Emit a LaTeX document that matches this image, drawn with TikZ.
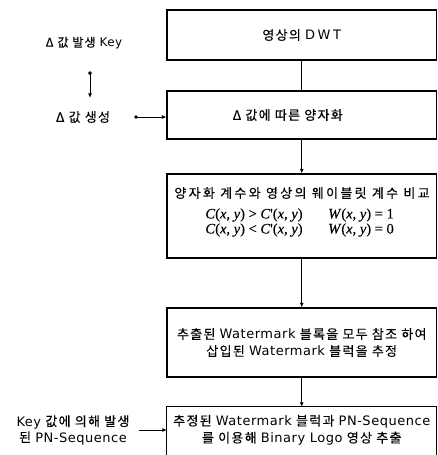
\documentclass[tikz,border=0pt]{standalone}
\usepackage{fontspec}
\setmainfont{Noto Sans CJK KR}[LetterSpace=10,FakeBold=0.3]
\newfontfamily\widefont{Noto Sans CJK KR}[LetterSpace=18,FakeBold=0.3]
\newfontfamily\lat{DejaVu Sans}[LetterSpace=4]
\newfontfamily\latw{DejaVu Sans}[LetterSpace=20]
\newfontfamily\tms{Liberation Serif}[FakeBold=0.3]
\newcommand{\lt}[1]{{\lat #1}}
\usetikzlibrary{arrows.meta}
\begin{document}
\begin{tikzpicture}[x=1pt,y=-1pt,
  txt/.style={inner sep=0pt, font=\fontsize{13}{17}\selectfont, align=center},
  lbl/.style={inner sep=0pt, font=\fontsize{13}{16}\selectfont, align=center},
  box/.style={txt, draw=none, minimum width=269.5pt},
  boxline/.style={line width=1.2pt},
  conn/.style={line width=1pt},
  arr/.style={conn, -{Latex[length=4.5pt,width=4pt]}},
  dotarr/.style={conn, {Circle[length=3.5pt]}-{Latex[length=4.5pt,width=4pt]}},
  mth/.style={inner sep=0pt, font=\fontsize{14.5}{16}\selectfont\tms}
]
\clip (0,0) rectangle (438,455);
\fill[white] (0,0) rectangle (438,455);
% main boxes
\node[box, draw, boxline, minimum height=50pt] (b1) at (301.75,35) {영상의 {\latw DWT}};
\node[box, draw, boxline, minimum height=48pt] (b2) at (301.75,115) {Δ 값에 따른 양자화\hspace*{28pt}};
\node[box, draw, boxline, minimum height=84pt] (b3) at (301.75,216) {};
\node[txt, font=\fontsize{13}{17}\widefont] (b3t) at (302,193) {양자화 계수와 영상의 웨이블릿 계수 비교};
\node[mth] (m1) at (254,215) {\textit{C}(\textit{x}, \textit{y}) > \textit{C}'(\textit{x}, \textit{y})};
\node[mth] (m2) at (254,230) {\textit{C}(\textit{x}, \textit{y}) < \textit{C}'(\textit{x}, \textit{y})};
\node[mth] (w1) at (361,215) {\textit{W}(\textit{x}, \textit{y}) = 1};
\node[mth] (w2) at (361,230) {\textit{W}(\textit{x}, \textit{y}) = 0};
\node[box, draw, boxline, minimum height=69pt] (b4) at (301.75,342.5)
  {추출된 \lt{Watermark} 블록을 모두 참조 하여\\삽입된 \lt{Watermark} 블럭을 추정};
\node[box, minimum height=46pt] (b5) at (301.75,430)
  {추정된 \lt{Watermark} 블럭과 \lt{PN-Sequence}\\를 이용해 \lt{Binary Logo} 영상 추출};
\draw[boxline] ([yshift=-40pt]b5.south west) -- (b5.north west) -- (b5.north east) -- ([yshift=-40pt]b5.south east);
% left labels
\node[lbl, font=\fontsize{12}{16}\selectfont] (k1) at (84,43) {Δ 값 발생 \lt{Key}};
\node[lbl] (k2) at (83,117) {Δ 값 생성};
\node[lbl] (k3) at (73,430) {\lt{Key} 값에 의해 발생\\된 \lt{PN-Sequence}};
% connectors
\draw[conn] (b1) -- (b2);
\draw[arr] (b2) -- (b3);
\draw[arr] (b3) -- (b4);
\draw[arr] (b4) -- (b5);
\draw[dotarr, shorten <=22pt, shorten >=13pt] ([xshift=6pt]k1.south) -- ([xshift=6pt]k1.south |- k2.north);
\draw[dotarr, shorten <=24pt] (k2.east) -- (k2.east -| b2.west);
\draw[arr, shorten <=9pt] (k3.east) -- (k3.east -| b5.west);
\end{tikzpicture}
\end{document}
